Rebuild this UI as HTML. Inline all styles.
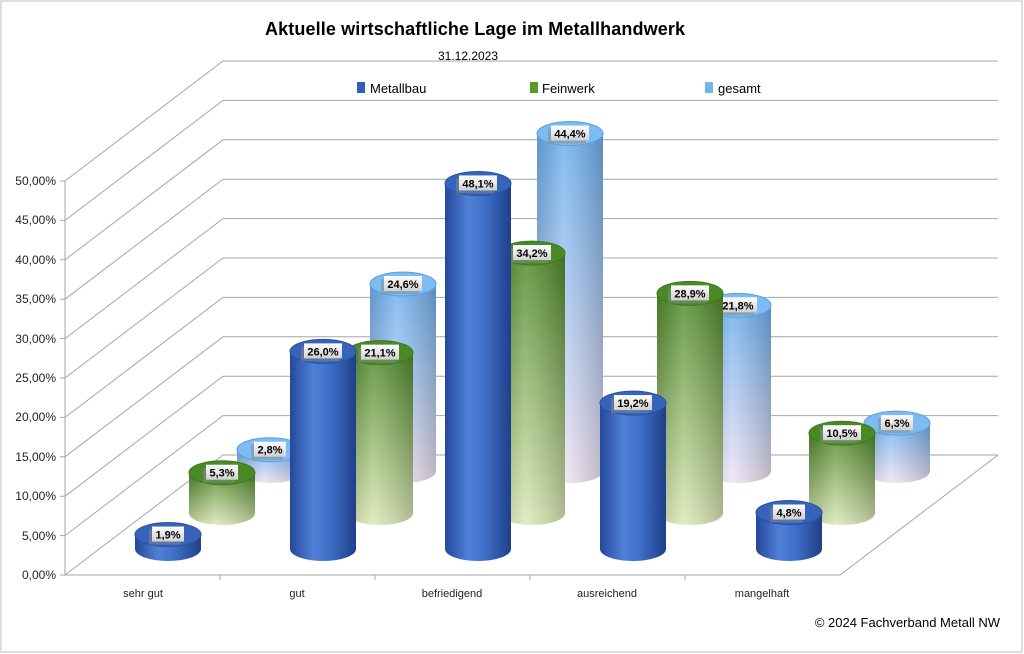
<!DOCTYPE html>
<html><head><meta charset="utf-8"><style>
html,body{margin:0;padding:0;background:#fff}
svg{display:block;font-family:"Liberation Sans",sans-serif}
</style></head><body>
<svg width="1024" height="654" viewBox="0 0 1024 654" xmlns="http://www.w3.org/2000/svg">
<defs>
<linearGradient id="mb" x1="0" x2="1" y1="0" y2="0"><stop offset="0" stop-color="#24489a"/><stop offset="0.35" stop-color="#4f80d6"/><stop offset="0.6" stop-color="#3f6fc8"/><stop offset="1" stop-color="#1f3f8a"/></linearGradient>
<linearGradient id="fw" x1="0" x2="0" y1="0" y2="1"><stop offset="0" stop-color="#4f8a2a"/><stop offset="1" stop-color="#dde9b8"/></linearGradient>
<linearGradient id="fwh" x1="0" x2="1"><stop offset="0" stop-color="#000" stop-opacity="0.15"/><stop offset="0.4" stop-color="#fff" stop-opacity="0.15"/><stop offset="1" stop-color="#000" stop-opacity="0.2"/></linearGradient>
<linearGradient id="gs" x1="0" x2="0" y1="0" y2="1"><stop offset="0" stop-color="#6eb0ee"/><stop offset="1" stop-color="#f0e4f4"/></linearGradient>
<linearGradient id="lb" x1="0" x2="0" y1="0" y2="1"><stop offset="0" stop-color="#ffffff"/><stop offset="1" stop-color="#d0d0d0"/></linearGradient>
</defs>
<rect x="1" y="1" width="1021" height="651" fill="#fff" stroke="#bdbdbd"/>
<text x="475" y="35" text-anchor="middle" font-size="18" font-weight="bold" fill="#000" textLength="420">Aktuelle wirtschaftliche Lage im Metallhandwerk</text>
<text x="468" y="60" text-anchor="middle" font-size="12" fill="#000">31.12.2023</text>
<g stroke="#a6a6a6" stroke-width="1" fill="none">
<path d="M65,575 L223,455 L998,455"/>
<path d="M65,535.6 L223,415.6 L998,415.6"/>
<path d="M65,496.2 L223,376.2 L998,376.2"/>
<path d="M65,456.8 L223,336.8 L998,336.8"/>
<path d="M65,417.4 L223,297.4 L998,297.4"/>
<path d="M65,378 L223,258 L998,258"/>
<path d="M65,338.6 L223,218.6 L998,218.6"/>
<path d="M65,299.2 L223,179.2 L998,179.2"/>
<path d="M65,259.8 L223,139.8 L998,139.8"/>
<path d="M65,220.4 L223,100.4 L998,100.4"/>
<path d="M65,181 L223,61 L998,61"/>
<path d="M65,181 L65,575 L840,575 L998,455"/>
<path d="M60,575h5M60,535.6h5M60,496.2h5M60,456.8h5M60,417.4h5M60,378h5M60,338.6h5M60,299.2h5M60,259.8h5M60,220.4h5M60,181h5"/>
<path d="M220,575v5M375,575v5M530,575v5M685,575v5"/>
</g>
<g font-size="12" fill="#222" text-anchor="end">
<text x="56" y="579">0,00%</text><text x="56" y="540">5,00%</text><text x="56" y="500">10,00%</text><text x="56" y="461">15,00%</text><text x="56" y="421">20,00%</text><text x="56" y="382">25,00%</text><text x="56" y="343">30,00%</text><text x="56" y="303">35,00%</text><text x="56" y="264">40,00%</text><text x="56" y="224">45,00%</text><text x="56" y="185">50,00%</text>
</g>
<g font-size="11" fill="#222" text-anchor="middle">
<text x="143" y="597">sehr gut</text><text x="297" y="597">gut</text><text x="452" y="597">befriedigend</text><text x="607" y="597">ausreichend</text><text x="762" y="597">mangelhaft</text>
</g>
<g font-size="13" fill="#000">
<rect x="357" y="82" width="8" height="11" fill="#2f5fb8"/><text x="370" y="93">Metallbau</text>
<rect x="530" y="82" width="8" height="11" fill="#5a9a2a"/><text x="542" y="93">Feinwerk</text>
<rect x="705" y="82" width="8" height="11" fill="#72b4ee"/><text x="718" y="93">gesamt</text>
</g>
<text x="1000" y="627" text-anchor="end" font-size="13" fill="#000">© 2024 Fachverband Metall NW</text>
<g id="bars"></g>
<script>
(function(){
var ns="http://www.w3.org/2000/svg",g=document.getElementById('bars');
function el(t,a){var e=document.createElementNS(ns,t);for(var k in a)e.setAttribute(k,a[k]);g.appendChild(e);return e;}
var rows=[
 {base:471,xs:[270,403,570,738,897],v:[2.8,24.6,44.4,21.8,6.3],body:'url(#gs)',top:'#7dbcf2',ov:'url(#fwh)',rim:'#5a9ee0'},
 {base:513,xs:[222,380,532,690,842],v:[5.3,21.1,34.2,28.9,10.5],body:'url(#fw)',top:'#4a8a24',ov:'url(#fwh)',rim:'#3c7a1c'},
 {base:549,xs:[168,323,478,633,789],v:[1.9,26.0,48.1,19.2,4.8],body:'url(#mb)',top:'#3763bb',ov:null,rim:'#2a50a0'}
];
var rx=33,ry=12,s=7.6;
rows.forEach(function(r){
 r.xs.forEach(function(x,i){
  var top=r.base-r.v[i]*s;
  var d='M'+(x-rx)+','+top+' L'+(x-rx)+','+r.base+' A'+rx+','+ry+' 0 0 0 '+(x+rx)+','+r.base+' L'+(x+rx)+','+top+' Z';
  el('path',{d:d,fill:r.body});
  if(r.ov)el('path',{d:d,fill:r.ov});
  el('ellipse',{cx:x,cy:top,rx:rx,ry:ry,fill:r.top,stroke:r.rim,'stroke-width':1});
  var lbl=(r.v[i].toFixed(1)).replace('.',',')+'%';
  var w=lbl.length>4?38:32;
  el('rect',{x:x-w/2-3,y:top-5,width:w,height:15,fill:'#888',opacity:0.5});
  el('rect',{x:x-w/2,y:top-8,width:w,height:15,fill:'url(#lb)'});
  var t=el('text',{x:x,y:top+4,'text-anchor':'middle','font-size':11,'font-weight':'bold',fill:'#000'});
  t.textContent=lbl;
 });
});
})();
</script>
</svg>
</body></html>
